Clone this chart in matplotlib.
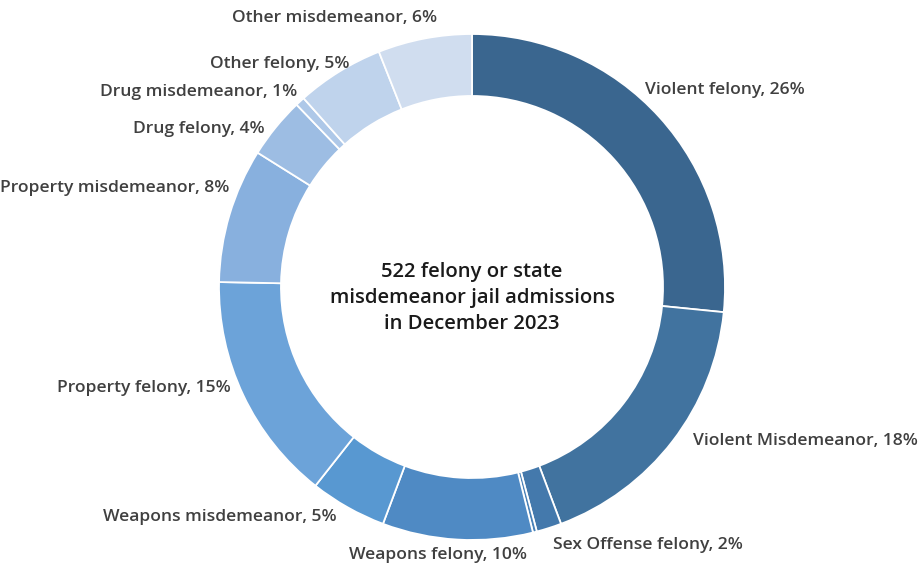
import matplotlib
matplotlib.use("Agg")
import matplotlib.pyplot as plt

# slices go clockwise from 12 o'clock
cats = ["Violent felony", "Violent Misdemeanor", "Sex Offense felony", "Sex Offense misdemeanor",
        "Weapons felony", "Weapons misdemeanor", "Property felony", "Property misdemeanor",
        "Drug felony", "Drug misdemeanor", "Other felony", "Other misdemeanor"]
vals = [26.6, 17.7, 1.6, 0.25, 9.6, 4.9, 14.7, 8.6, 3.9, 0.6, 5.6, 6.0]
pct_labels = ["26%", "18%", "2%", "", "10%", "5%", "15%", "8%", "4%", "1%", "5%", "6%"]
colors = ["#3a668f", "#41739f", "#4479ac", "#4a82b8", "#4f8ac4", "#5898d1",
          "#6ca3d9", "#88b0de", "#9dbde3", "#aec8e8", "#bfd3ec", "#d0ddef"]
center_txt = "522 felony or state\nmisdemeanor jail admissions\nin December 2023"

# label anchor (pixel x, pixel y, ha) picked to follow the original layout
lab_pos = [(645, 90, "left"), (693, 441, "left"), (553, 545, "left"), None,
           (527, 555, "right"), (337, 517, "right"), (231, 388, "right"), (229, 188, "right"),
           (265, 129, "right"), (297, 92, "right"), (349, 64, "right"), (335, 18, "center")]

W, H = 923, 569
fig = plt.figure(figsize=(W / 100, H / 100), dpi=100)
ax = fig.add_axes([0, 0, 1, 1])

cx, cy, R = 472, H - 287, 253
ax.pie(vals, colors=colors, startangle=90, counterclock=False, center=(cx, cy), radius=R,
       wedgeprops=dict(width=R * 0.245, edgecolor="white", linewidth=1.3), frame=True)
ax.set_xlim(0, W); ax.set_ylim(0, H); ax.set_aspect("equal"); ax.axis("off")

for c, p, pos in zip(cats, pct_labels, lab_pos):
    if pos is None:
        continue
    x, y, ha = pos
    ax.text(x, H - y, f"{c}, {p}", ha=ha, va="center", fontsize=12.6,
            family="Open Sans", fontweight="semibold", color="#404040")

ax.text(cx, H - 298, center_txt, ha="center", va="center", fontsize=14.6,
        family="Open Sans", fontweight="semibold", color="#1a1a1a", linespacing=1.39)

fig.savefig("out.png", dpi=100)
